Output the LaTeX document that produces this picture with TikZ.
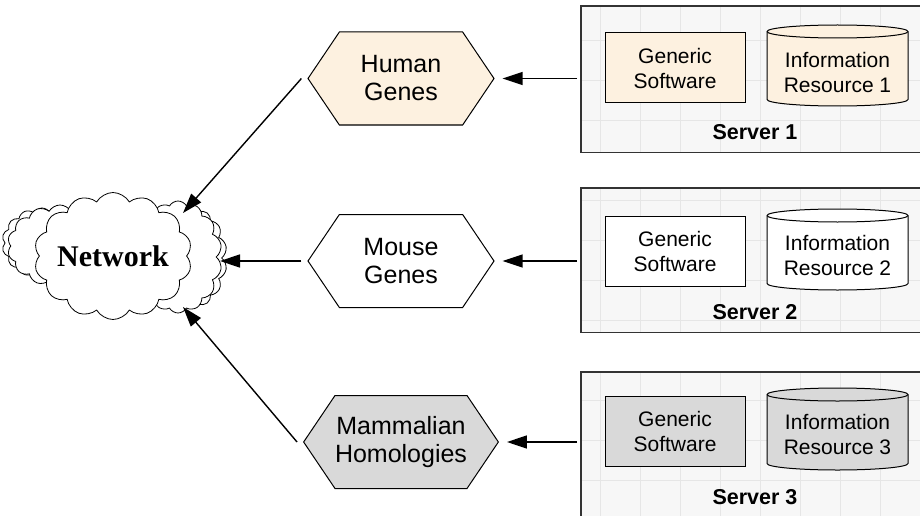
\documentclass[tikz,border=0pt]{standalone}
\usepackage{fontspec}
\setmainfont{Liberation Sans}
\newfontfamily\netfont{Liberation Serif}
\usetikzlibrary{shapes.symbols,shapes.geometric,arrows.meta}
\definecolor{cream}{HTML}{FDF1E0}
\definecolor{hgray}{HTML}{D9D9D9}
\definecolor{srvbg}{HTML}{F7F7F7}
\definecolor{gridc}{HTML}{E6E6E6}
\definecolor{srvline}{HTML}{333333}
\begin{document}
\begin{tikzpicture}[x=1pt,y=1pt,
  hexa/.style={signal, signal to=west and east, signal pointer angle=112,
    draw, line width=1pt, minimum width=186, minimum height=93, inner sep=0pt,
    align=center, font=\fontsize{25}{28}\selectfont},
  srv/.style={rectangle, fill=srvbg, draw=none, anchor=north west, inner sep=0pt},
  srvborder/.style={draw=srvline, line width=1.3pt},
  gridline/.style={draw=gridc, line width=0.8pt},
  gsbox/.style={rectangle, draw, line width=1pt, minimum width=140, minimum height=70,
    align=center, font=\fontsize{21}{25}\selectfont, inner sep=0pt},
  cylpath/.style={draw, line width=1pt},
  cyltext/.style={align=center, font=\fontsize{21}{25}\selectfont, inner sep=0pt},
  srvlabel/.style={font=\fontsize{21.5}{25}\selectfont\bfseries, inner sep=0pt},
  arr/.style={line width=1.4pt, -{Triangle[length=20pt,width=13pt]}},
  cloudy/.style={cloud, cloud puffs=14, cloud puff arc=120, cloud ignores aspect,
    draw, fill=white, line width=0.8pt, inner sep=0pt}
]
\useasboundingbox (0,0) rectangle (920,-516);

% ---------- Servers ----------
\node[srv, minimum width=349, minimum height=146] (s1) at (581,-6) {};
\node[srv, minimum width=349, minimum height=144] (s2) at (581,-188) {};
\node[srv, minimum width=349, minimum height=160] (s3) at (581,-372) {};
\foreach \s in {s1,s2,s3}{
  \begin{scope}
    \clip (\s.south west) rectangle (\s.north east);
    \draw[gridline] (560,0) grid[step=40] (960,-560);
  \end{scope}
  \draw[srvborder] (\s.south west) rectangle (\s.north east);
}

% Generic software boxes
\node[gsbox, fill=cream] (gs1) at (675,-68) {Generic\\Software};
\node[gsbox, fill=white] (gs2) at (675,-251.5) {Generic\\Software};
\node[gsbox, fill=hgray] (gs3) at (675,-431.5) {Generic\\Software};

% Cylinders
\filldraw[cylpath, fill=cream] (767,-31.5) -- (767,-99.5)
  arc[start angle=180, end angle=360, x radius=70.5, y radius=6.5] -- (908,-31.5)
  arc[start angle=0, end angle=180, x radius=70.5, y radius=6.5] -- cycle;
\draw[cylpath] (767,-31.5) arc[start angle=180, end angle=360, x radius=70.5, y radius=6.5];
\filldraw[cylpath, fill=white] (767,-215.5) -- (767,-283.5)
  arc[start angle=180, end angle=360, x radius=70.5, y radius=6.5] -- (908,-215.5)
  arc[start angle=0, end angle=180, x radius=70.5, y radius=6.5] -- cycle;
\draw[cylpath] (767,-215.5) arc[start angle=180, end angle=360, x radius=70.5, y radius=6.5];
\filldraw[cylpath, fill=hgray] (767,-394.5) -- (767,-463.5)
  arc[start angle=180, end angle=360, x radius=70.5, y radius=6.5] -- (908,-394.5)
  arc[start angle=0, end angle=180, x radius=70.5, y radius=6.5] -- cycle;
\draw[cylpath] (767,-394.5) arc[start angle=180, end angle=360, x radius=70.5, y radius=6.5];
\node[cyltext] (ir1) at (837.5,-72) {Information\\Resource 1};
\node[cyltext] (ir2) at (837.5,-255) {Information\\Resource 2};
\node[cyltext] (ir3) at (837.5,-434) {Information\\Resource 3};

% Server labels
\node[srvlabel] (l1) at (755,-132) {Server 1};
\node[srvlabel] (l2) at (755,-312) {Server 2};
\node[srvlabel] (l3) at (755,-497) {Server 3};

% ---------- Hexagons ----------
\node[hexa, fill=cream] (hg) at (401,-78.5) {Human\\Genes};
\node[hexa, fill=white] (mg) at (401,-261) {Mouse\\Genes};
\node[hexa, fill=hgray] (mh) at (401,-442) {Mammalian\\Homologies};

% ---------- Cloud ----------
\node[cloudy, minimum width=80, minimum height=70] (netL2) at (42,-243) {};
\node[cloudy, minimum width=105, minimum height=82] (netL) at (60,-246) {};
\node[cloudy, minimum width=70, minimum height=100] (netR2) at (192,-258) {};
\node[cloudy, minimum width=88, minimum height=112] (netR) at (178,-257) {};
\node[cloudy, minimum width=153, minimum height=127] (net) at (113,-256)
  {\netfont\bfseries\fontsize{30}{32}\selectfont Network};

% ---------- Arrows ----------
\coordinate (t1) at (183,-213);
\coordinate (t2) at (220,-261);
\coordinate (t3) at (183,-307);
\draw[arr] ([xshift=-4pt]s1.west |- hg.east) -- ([xshift=8pt]hg.east);
\draw[arr] ([xshift=-4pt]s2.west |- mg.east) -- ([xshift=8pt]mg.east);
\draw[arr] ([xshift=-4pt]s3.west |- mh.east) -- ([xshift=8pt]mh.east);
\draw[arr] ([xshift=-6pt]hg.west) -- (t1);
\draw[arr] ([xshift=-6pt]mg.west) -- (t2);
\draw[arr] ([xshift=-6pt]mh.west) -- (t3);
\end{tikzpicture}
\end{document}
